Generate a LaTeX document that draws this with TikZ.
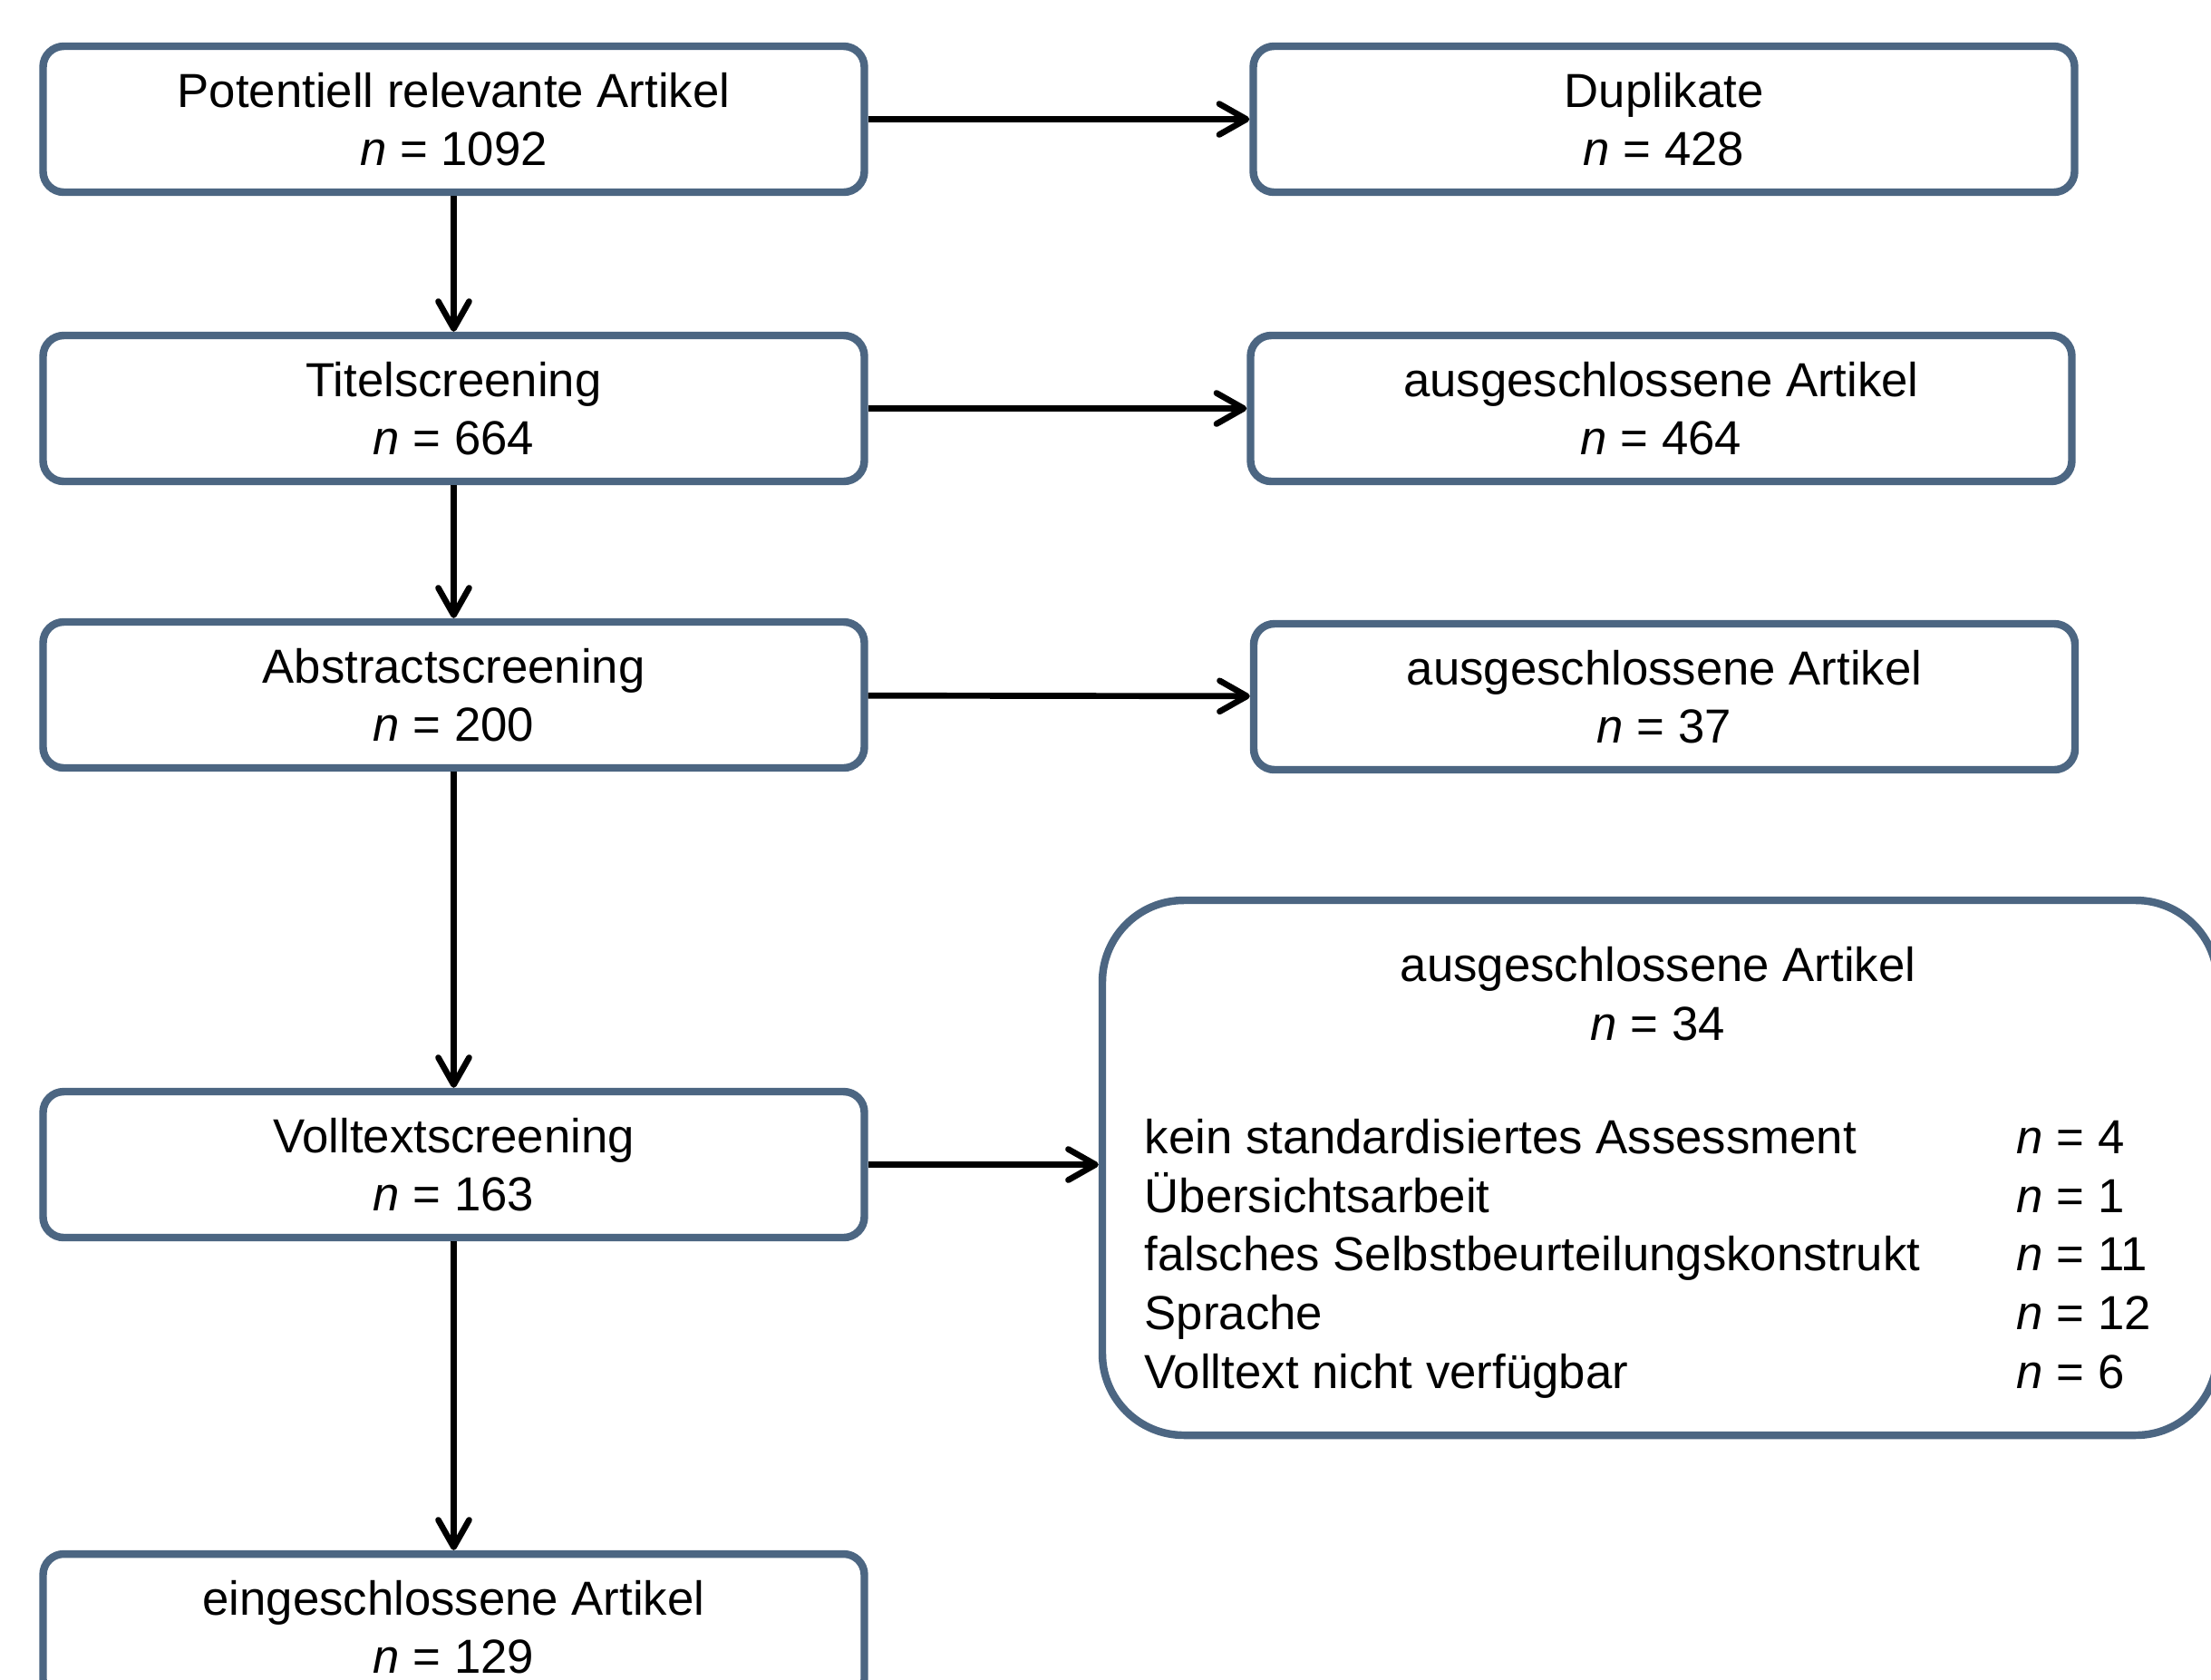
\documentclass[tikz,border=0pt]{standalone}
\usepackage{fontspec}
\setmainfont{Liberation Sans}
\usetikzlibrary{arrows.meta}
\definecolor{boxline}{RGB}{76,102,130}

\begin{document}
\begin{tikzpicture}[every node/.style={font=\fontsize{15}{18.4}\selectfont},
  box/.style={draw=boxline,line width=2.4pt,rounded corners=6.5pt,minimum width=9.06cm,minimum height=1.61cm,align=center,fill=white},
  bigbox/.style={draw=boxline,line width=2.4pt,rounded corners=0.9cm,minimum width=12.3cm,minimum height=5.9cm},
  flow/.style={-{Straight Barb[length=3mm,width=3.4mm,round]},line width=1.9pt}]
\useasboundingbox (0,0) rectangle (24.39,-18.52);
\clip (0,0) rectangle (24.39,-18.52);
% left column
\node[box] (pot) at (5.005,-1.315) {Potentiell relevante Artikel\\\textit{n} = 1092};
\node[box] (titel) at (5.005,-4.505) {Titelscreening\\\textit{n} = 664};
\node[box] (abs) at (5.005,-7.665) {Abstractscreening\\\textit{n} = 200};
\node[box] (voll) at (5.005,-12.845) {Volltextscreening\\\textit{n} = 163};
\node[box] (ein) at (5.005,-17.945) {eingeschlossene Artikel\\\textit{n} = 129};
% right column
\node[box] (dup) at (18.355,-1.315) {Duplikate\\\textit{n} = 428};
\node[box] (aus1) at (18.325,-4.505) {ausgeschlossene Artikel\\\textit{n} = 464};
\node[box] (aus2) at (18.36,-7.685) {ausgeschlossene Artikel\\\textit{n} = 37};
\node[bigbox] (excl) at (18.31,-12.88) {};
\node[align=center] (excltitle) at (18.29,-10.96) {ausgeschlossene Artikel\\\textit{n} = 34};
\node[anchor=west,inner sep=0pt] (excllist) at (12.62,-13.89) {%
  \begin{tabular}{@{}p{9.62cm}@{}l@{}}
  kein standardisiertes Assessment & \textit{n} = 4\\
  Übersichtsarbeit & \textit{n} = 1\\
  falsches Selbstbeurteilungskonstrukt & \textit{n} = 11\\
  Sprache & \textit{n} = 12\\
  Volltext nicht verfügbar & \textit{n} = 6
  \end{tabular}};
% arrows
\draw[flow] (pot) -- (titel);
\draw[flow] (titel) -- (abs);
\draw[flow] (abs) -- (voll);
\draw[flow] (voll) -- (ein);
\draw[flow] (pot) -- (dup);
\draw[flow] (titel) -- (aus1);
\draw[flow] (abs) -- (aus2);
\draw[flow] (voll.east) -- (voll.east -| excl.west);
\end{tikzpicture}
\end{document}
